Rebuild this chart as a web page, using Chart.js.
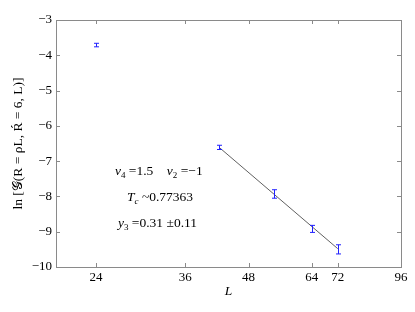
<!DOCTYPE html>
<html>
<head>
<meta charset="utf-8">
<script src="https://cdn.jsdelivr.net/npm/chart.js@4.4.1/dist/chart.umd.min.js"></script>
<style>
html,body{margin:0;padding:0;background:#fff;}
#wrap{width:415px;height:312px;}
</style>
</head>
<body>
<div id="wrap"><canvas id="c" width="415" height="312"></canvas></div>
<script>
// ---- data ----
const sizesL = [24, 42, 54, 64, 72];
const lnG = [-3.71, -6.61, -7.93, -8.92, -9.50];
const lnGErr = [0.05, 0.06, 0.12, 0.10, 0.13];
const fitL = [42, 72];
const fitY = [-6.61, -9.48];
const xTickValues = [24, 36, 48, 64, 72, 96];
const yTickValues = [-3, -4, -5, -6, -7, -8, -9, -10];
const yTitle = 'ln [𝒢(R = ρL, Ŕ = 6, L)]';
const xTitle = 'L';

const FONT = "'Liberation Serif', 'Times New Roman', serif";
const BOX = '#8a8a8a';

function minus(v){ return v < 0 ? '\u2212' + Math.abs(v) : String(v); }

function drawRich(ctx, x, y, segs){
  let cx = x;
  for (const s of segs){
    const size = s.sub ? 9 : 13.5;
    ctx.font = (s.it ? 'italic ' : '') + size + 'px ' + FONT;
    const dy = s.sub ? 3 : 0;
    ctx.fillText(s.t, cx, y + dy);
    cx += ctx.measureText(s.t).width;
  }
}

const framePlugin = {
  id: 'frame',
  afterDatasetsDraw(chart){
    const {ctx, chartArea:a, scales:{x, y}} = chart;
    ctx.save();
    // error bars
    ctx.strokeStyle = '#2020ff';
    ctx.lineWidth = 1;
    for (let i = 0; i < sizesL.length; i++){
      const px = Math.round(x.getPixelForValue(sizesL[i])) + 0.5;
      const y1 = y.getPixelForValue(lnG[i] + lnGErr[i]);
      const y2 = y.getPixelForValue(lnG[i] - lnGErr[i]);
      ctx.beginPath();
      ctx.moveTo(px, y1); ctx.lineTo(px, y2);
      ctx.moveTo(px - 2.5, y1); ctx.lineTo(px + 2.5, y1);
      ctx.moveTo(px - 2.5, y2); ctx.lineTo(px + 2.5, y2);
      ctx.stroke();
    }
    // box
    ctx.strokeStyle = BOX;
    ctx.lineWidth = 1;
    ctx.strokeRect(Math.round(a.left)+0.5, Math.round(a.top)+0.5, Math.round(a.right-a.left), Math.round(a.bottom-a.top));
    // inward ticks
    ctx.beginPath();
    for (const v of xTickValues){
      const px = Math.round(x.getPixelForValue(v)) + 0.5;
      ctx.moveTo(px, a.bottom); ctx.lineTo(px, a.bottom - 4);
      ctx.moveTo(px, a.top); ctx.lineTo(px, a.top + 4);
    }
    for (const v of yTickValues){
      const py = Math.round(y.getPixelForValue(v)) + 0.5;
      ctx.moveTo(a.left, py); ctx.lineTo(a.left + 4, py);
      ctx.moveTo(a.right, py); ctx.lineTo(a.right - 4, py);
    }
    ctx.stroke();
    // annotation
    ctx.fillStyle = '#000';
    ctx.textBaseline = 'alphabetic';
    ctx.textAlign = 'left';
    drawRich(ctx, 115, 175, [{t:'v',it:1},{t:'4',sub:1},{t:' =1.5    '},{t:'v',it:1},{t:'2',sub:1},{t:' =\u22121'}]);
    drawRich(ctx, 127, 201, [{t:'T',it:1},{t:'c',sub:1,it:1},{t:' ~0.77363'}]);
    drawRich(ctx, 118, 227, [{t:'y',it:1},{t:'3',sub:1},{t:' =0.31 \u00B10.11'}]);
    ctx.restore();
  }
};

new Chart(document.getElementById('c'), {
  type: 'scatter',
  data: {
    datasets: [
      {
        data: sizesL.map((v, i) => ({x: v, y: lnG[i]})),
        pointRadius: 0,
        showLine: false,
        borderColor: '#0000ff',
        backgroundColor: '#0000ff'
      },
      {
        data: fitL.map((v, i) => ({x: v, y: fitY[i]})),
        showLine: true,
        pointRadius: 0,
        borderColor: '#606060',
        borderWidth: 1,
        fill: false
      }
    ]
  },
  options: {
    responsive: false,
    animation: false,
    devicePixelRatio: 1,
    layout: { padding: { left: 0, top: 20, right: 14, bottom: 0 } },
    plugins: { legend: { display: false }, tooltip: { enabled: false } },
    scales: {
      x: {
        type: 'logarithmic',
        min: 20, max: 96,
        afterBuildTicks: s => { s.ticks = xTickValues.map(v => ({value: v})); },
        afterFit: s => { s.height = 45; },
        grid: { display: false, drawTicks: false },
        border: { display: false },
        ticks: {
          autoSkip: false, maxRotation: 0, padding: 3,
          color: '#000', font: { family: FONT, size: 13 },
          callback: v => String(v)
        },
        title: { display: true, text: xTitle, color: '#000', padding: { top: 0, bottom: 12 },
          font: { family: FONT, size: 13.5, style: 'italic' } }
      },
      y: {
        min: -10, max: -3,
        afterBuildTicks: s => { s.ticks = yTickValues.map(v => ({value: v})); },
        afterFit: s => { s.width = 56; },
        grid: { display: false, drawTicks: false },
        border: { display: false },
        ticks: {
          autoSkip: false, padding: 4,
          color: '#000', font: { family: FONT, size: 13 },
          callback: v => minus(v)
        },
        title: { display: true, text: yTitle, color: '#000', padding: { top: 10, bottom: 0 },
          font: { family: FONT, size: 13.5 } }
      }
    }
  },
  plugins: [framePlugin]
});
</script>
</body>
</html>
